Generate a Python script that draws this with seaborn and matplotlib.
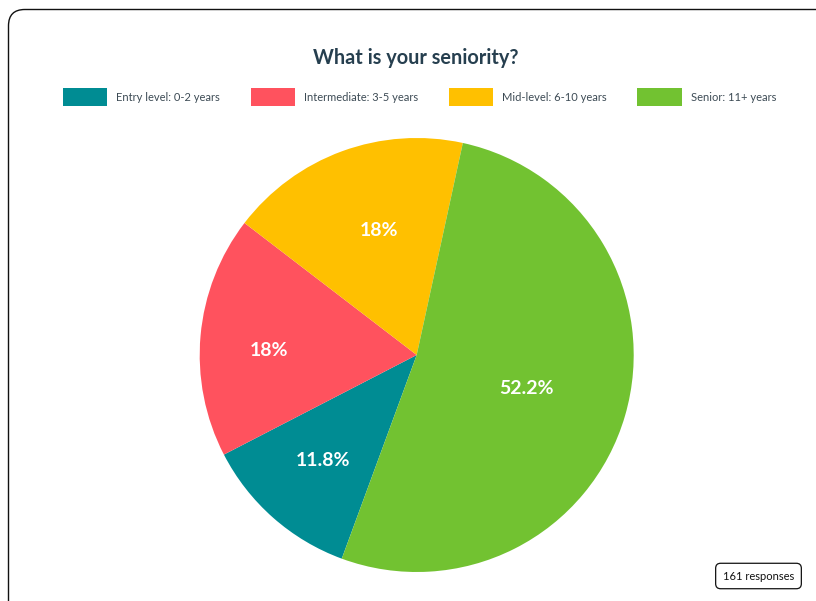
import matplotlib
matplotlib.use("Agg")
import matplotlib.pyplot as plt
import matplotlib.patches as mpatches
import numpy as np
import seaborn as sns

# ---- data ----
categories = ["Entry level: 0-2 years", "Intermediate: 3-5 years",
              "Mid-level: 6-10 years", "Senior: 11+ years"]
percentages = [11.8, 18.0, 18.0, 52.2]
labels_text = ["11.8%", "18%", "18%", "52.2%"]
colors = ["#008c93", "#ff525e", "#ffc000", "#72c231"]
title_text = "What is your seniority?"
responses_text = "161 responses"

sns.set_theme(style="white")
plt.rcParams["font.family"] = ["Lato", "DejaVu Sans"]

W, H = 816, 601
fig = plt.figure(figsize=(W / 100, H / 100), dpi=100)
fig.patch.set_facecolor("white")

# card border (rounded, cut at right/bottom)
card = mpatches.FancyBboxPatch((8.5 / W, -0.2), (814 - 8.5) / W + 0.2, (H - 9.5) / H + 0.2,
                               boxstyle=mpatches.BoxStyle("Round", pad=0, rounding_size=0.02),
                               transform=fig.transFigure, facecolor="none",
                               edgecolor="#111111", linewidth=1.0, zorder=-1, mutation_aspect=W / H)
fig.patches.append(card)

# pie axes
cx, cy, r = 416.7, 355.0, 217.0
ax = fig.add_axes([(cx - r) / W, (H - cy - r) / H, 2 * r / W, 2 * r / H])
ax.set_zorder(2)
ax.set_facecolor("none")
wedges, _ = ax.pie(percentages, colors=sns.color_palette(colors), startangle=249.8,
                   counterclock=False, radius=1.0,
                   wedgeprops=dict(linewidth=0))
ax.set_xlim(-1, 1)
ax.set_ylim(-1, 1)
ax.set_aspect("equal")
ax.axis("off")

label_dist = [0.65, 0.68, 0.6, 0.53]
label_ang_shift = [0.0, 3.3, -3.4, -0.5]
for w, t, d, s in zip(wedges, labels_text, label_dist, label_ang_shift):
    ang = np.deg2rad((w.theta1 + w.theta2) / 2 + s)
    ax.text(d * np.cos(ang), d * np.sin(ang), t, ha="center", va="center",
            color="white", fontsize=14, fontweight="bold")

# title
fig.text(416 / W, 1 - 58 / H, title_text, ha="center", va="center",
         fontsize=14.3, fontweight="bold", color="#263f4f")

# legend
handles = [mpatches.Patch(facecolor=c, edgecolor="none", label=l)
           for c, l in zip(colors, categories)]
leg = fig.legend(handles=handles, loc="center", bbox_to_anchor=(419.5 / W, 1 - 97 / H),
                 ncol=4, frameon=False, fontsize=8, handlelength=4.0, handleheight=2.0,
                 handletextpad=0.8, columnspacing=2.76, borderaxespad=0)
for txt in leg.get_texts():
    txt.set_color("#3d4b55")

# responses badge
fig.text(758.5 / W, 1 - 576 / H, responses_text, ha="center", va="center", fontsize=8,
         color="#111111",
         bbox=dict(boxstyle="round,pad=0.65,rounding_size=0.45", facecolor="white",
                   edgecolor="#111111", linewidth=0.9))

fig.savefig("out.png", dpi=100, facecolor="white")
